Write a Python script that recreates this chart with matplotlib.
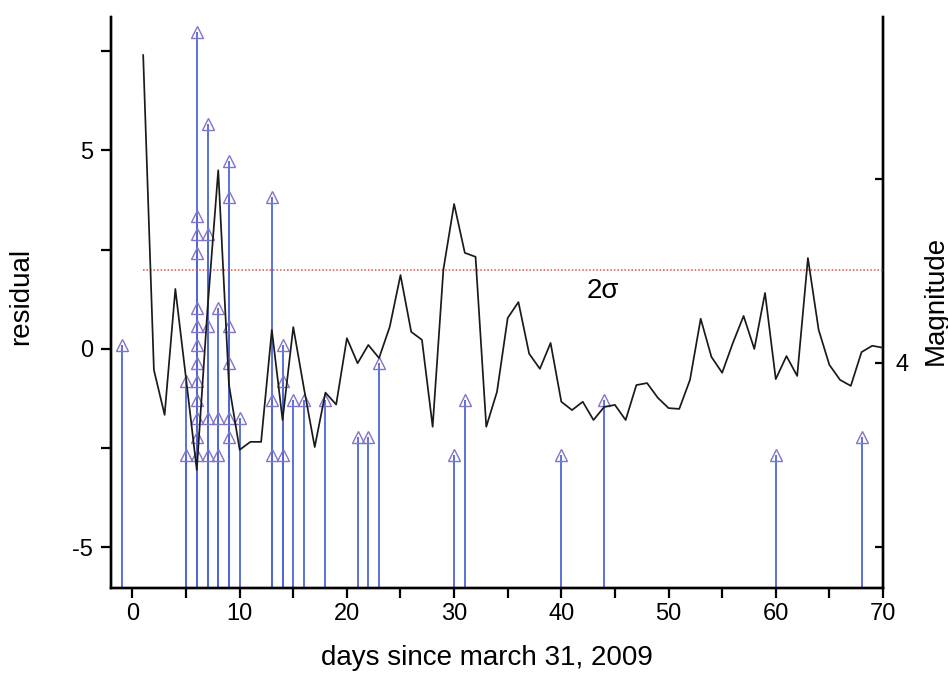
import matplotlib
matplotlib.use('Agg')
import matplotlib.pyplot as plt
from matplotlib.ticker import MultipleLocator, FixedLocator, FixedFormatter

plt.rcParams['font.family'] = ['Liberation Sans', 'DejaVu Sans']
plt.rcParams['axes.unicode_minus'] = False

# ---- data ----
days = list(range(1, 71))
residual = [7.4, -0.53, -1.66, 1.51, -0.75, -3.05, 1.0, 4.5, -0.9, -2.54,
            -2.34, -2.34, 0.48, -1.79, 0.55, -1.0, -2.47, -1.1, -1.4, 0.27,
            -0.36, 0.1, -0.23, 0.56, 1.86, 0.43, 0.23, -1.96, 2.0, 3.65,
            2.42, 2.32, -1.96, -1.08, 0.78, 1.18, -0.12, -0.5, 0.15, -1.33,
            -1.54, -1.33, -1.79, -1.46, -1.41, -1.79, -0.91, -0.86, -1.23, -1.49,
            -1.51, -0.78, 0.76, -0.2, -0.6, 0.15, 0.83, 0.0, 1.41, -0.76,
            -0.18, -0.68, 2.29, 0.48, -0.4, -0.78, -0.93, -0.08, 0.08, 0.03]

quake_days = [-1,
              5, 5,
              6, 6, 6, 6, 6, 6, 6, 6, 6, 6, 6, 6, 6,
              7, 7, 7, 7, 7,
              8, 8, 8,
              9, 9, 9, 9, 9, 9,
              10,
              13, 13, 13,
              14, 14, 14,
              15, 16, 18, 21, 22, 23, 30, 31, 40, 44, 60, 68]
quake_mags = [4.1,
              3.9, 3.5,
              5.8, 4.8, 4.7, 4.6, 4.3, 4.2, 4.1, 4.0, 3.9, 3.8, 3.7, 3.6, 3.5,
              5.3, 4.7, 4.2, 3.7, 3.5,
              4.3, 3.7, 3.5,
              5.1, 4.9, 4.2, 4.0, 3.7, 3.6,
              3.7,
              4.9, 3.8, 3.5,
              4.1, 3.9, 3.5,
              3.8, 3.8, 3.8, 3.6, 3.6, 4.0, 3.5, 3.8, 3.5, 3.8, 3.5, 3.6]

sigma2 = 2.0
sigma_days = [1, 70]
xticks_major = [0, 10, 20, 30, 40, 50, 60, 70]
mag_ticks = [3, 4, 5]
mag_ticklabels = ['', '4', '']

# ---- figure ----
fig = plt.figure(figsize=(9.48, 6.76), dpi=100)
ax = fig.add_axes([0.1171, 0.1302, 0.8143, 0.8447])
ax2 = ax.twinx()

ax.set_xlim(-2, 70)
ax.set_ylim(-6.02, 8.36)
ax2.set_ylim(2.777, 5.88)

# stems (magnitude, right axis)
base = ax2.get_ylim()[0]
ax2.vlines(quake_days, base, quake_mags, color='#4f66d8', lw=1.3, zorder=2)
ax2.plot(quake_days, quake_mags, ls='none', marker='^', ms=8.5,
         mfc='none', mec='#8474c8', mew=1.0, zorder=3)

# residual line
ax.set_zorder(ax2.get_zorder() + 1)
ax.patch.set_visible(False)
ax.plot(days, residual, color='#1a1a1a', lw=1.25, zorder=4)
ax.plot(sigma_days, [sigma2, sigma2], color='#e05050', lw=1.1,
        ls=(0, (1.0, 1.3)), zorder=3)
ax.text(43.9, 1.45, '2σ', fontsize=20, ha='center', va='center')

# spines
for a in (ax, ax2):
    a.spines['top'].set_visible(False)
    for s in ('left', 'right', 'bottom'):
        a.spines[s].set_linewidth(1.7)

# ticks
ax.xaxis.set_major_locator(FixedLocator(xticks_major))
ax.xaxis.set_minor_locator(MultipleLocator(5))
ax.yaxis.set_major_locator(MultipleLocator(5))
ax.yaxis.set_minor_locator(MultipleLocator(2.5))
ax.tick_params(axis='both', which='both', direction='out', length=7, width=1.6,
               labelsize=17, pad=4)
ax.tick_params(axis='y', which='both', pad=6)
ax.tick_params(top=False, right=False)

ax2.yaxis.set_major_locator(FixedLocator(mag_ticks))
ax2.yaxis.set_major_formatter(FixedFormatter(mag_ticklabels))
ax2.tick_params(axis='y', direction='in', length=6, width=1.6, labelsize=17, pad=9)

ax.set_xlabel('days since march 31, 2009', fontsize=20)
ax.set_ylabel('residual', fontsize=20)
ax2.set_ylabel('Magnitude', fontsize=20)
ax.xaxis.set_label_coords(0.487, -0.10)
ax.yaxis.set_label_coords(-0.10, 0.51)
ax2.yaxis.set_label_coords(1.052, 0.504)

fig.savefig('out.png', dpi=100)
